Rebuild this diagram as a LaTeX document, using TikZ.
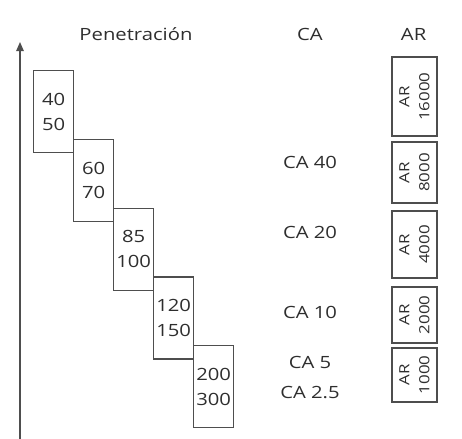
\documentclass[tikz,border=0pt]{standalone}
\usepackage{fontspec}
\setmainfont{Open Sans}[FakeStretch=1.2]
\usepackage{tikz}
\usetikzlibrary{arrows.meta,positioning}

\definecolor{linegray}{HTML}{4E4E4E}
\definecolor{textgray}{HTML}{2E2E2E}

\tikzset{
  penbox/.style={draw=linegray, line width=0.32mm, minimum width=10mm, minimum height=20.5mm,
    anchor=north west, inner sep=0pt, align=center, text=textgray,
    font=\fontsize{12}{17.7}\selectfont},
  arbox/.style={draw=linegray, line width=0.32mm, rotate=90, minimum height=11.25mm,
    inner sep=0pt, align=center, text=textgray, font=\fontsize{10}{14.2}\selectfont},
  calabel/.style={text=textgray, font=\fontsize{12}{14}\selectfont},
  header/.style={anchor=base, text=textgray, font=\fontsize{12}{14}\selectfont}
}

\begin{document}
\begin{tikzpicture}
				 %\draw[color=gray,step=1mm, help lines,opacity=0.3] (0mm,0mm) grid (115.5mm,109.75mm); %help grids
				 \useasboundingbox (0mm,0mm) rectangle (115.5mm,109.75mm);
				 \coordinate (O) at (5mm,0mm);
				 \coordinate (T) at (5mm,99.25mm);
				 \draw[linegray, line width=0.38mm, -{Triangle[width=1.9mm,length=2.3mm]}] (O)--(T);
				 % headers
				 \node[header] (hpen) at (34mm,99.5mm) {Penetración};
				 \node[header] (hca) at (77.5mm,99.5mm) {CA};
				 \node[header] (har) at (103.4mm,99.5mm) {AR};
				 % penetration boxes
				 \node[penbox] (P1) at (8.25mm,92.25mm) {40\\50};
				 \node[penbox] (P2) at (18.25mm,75.05mm) {60\\70};
				 \node[penbox] (P3) at (28.25mm,57.85mm) {85\\100};
				 \node[penbox] (P4) at (38.25mm,40.65mm) {120\\150};
				 \node[penbox] (P5) at (48.25mm,23.45mm) {200\\300};
				 % CA labels
				 \node[calabel] (CA1) at (77.5mm,69.25mm) {CA 40};
				 \node[calabel] (CA2) at (77.5mm,51.75mm) {CA 20};
				 \node[calabel] (CA3) at (77.5mm,31.75mm) {CA 10};
				 \node[calabel] (CA4) at (77.5mm,19.25mm) {CA 5};
				 \node[calabel] (CA5) at (77.5mm,11.5mm) {CA 2.5};
				 % AR boxes
				 \node[arbox, minimum width=19.75mm] (AR1) at (103.6mm,85.6mm) {AR\\16000};
				 \node[arbox, minimum width=15.25mm] (AR2) at (103.6mm,66.6mm) {AR\\8000};
				 \node[arbox, minimum width=16.75mm] (AR3) at (103.6mm,48.6mm) {AR\\4000};
				 \node[arbox, minimum width=14mm] (AR4) at (103.6mm,31mm) {AR\\2000};
				 \node[arbox, minimum width=13.5mm] (AR5) at (103.6mm,16mm) {AR\\1000};
\end{tikzpicture}
\end{document}
